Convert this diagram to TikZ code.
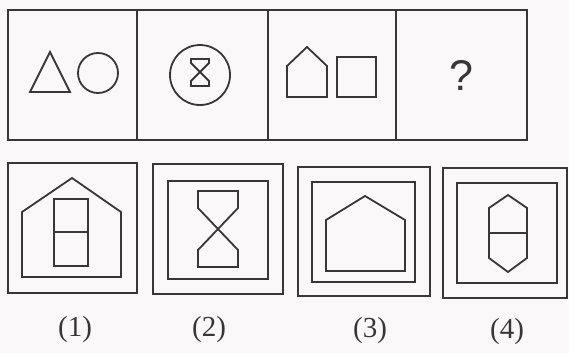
\documentclass[tikz,border=0pt]{standalone}
\usepackage{fontspec}
\newfontfamily\qfont{Liberation Sans}
\newfontfamily\lfont{Liberation Serif}
\definecolor{ink}{RGB}{55,55,55}
\definecolor{paper}{RGB}{250,248,249}
\begin{document}
\begin{tikzpicture}[x=1pt,y=-1pt,
  shp/.style={draw=ink,line width=1.8pt,line join=miter},
  lbl/.style={font=\lfont\fontsize{29}{31}\selectfont,text=ink,inner sep=0pt}]
\fill[paper] (0,0) rectangle (569,353);
\useasboundingbox (0,0) rectangle (569,353);
% top row frame
\draw[shp] (8,10) rectangle (527,140);
\draw[shp] (137,10) -- (137,140);
\draw[shp] (268,10) -- (268,140);
\draw[shp] (396,10) -- (396,140);
% panel 1
\draw[shp] (30,92) -- (50,52) -- (70,92) -- cycle;
\draw[shp] (98,73) circle (20);
% panel 2
\draw[shp] (200,75) circle (30);
\draw[shp] (191,59) -- (209,59) -- (209,63) -- (200,72) -- (209,81) -- (209,86) -- (191,86) -- (191,81) -- (200,72) -- (191,63) -- cycle;
% panel 3
\draw[shp] (287,97) -- (287,66) -- (307,47) -- (327,66) -- (327,97) -- cycle;
\draw[shp] (337,57) rectangle (376,97);
% panel 4
\node[font=\qfont\fontsize{43}{46}\selectfont,text=ink,inner sep=0pt] (q) at (461,75) {?};
% option 1
\draw[shp] (8,163) rectangle (137,293);
\draw[shp] (22,277) -- (22,212) -- (72,178) -- (121,212) -- (121,277) -- cycle;
\draw[shp] (54,199) rectangle (88,266);
\draw[shp] (54,232) -- (88,232);
% option 2
\draw[shp] (153,164) rectangle (283,294);
\draw[shp] (168,181) rectangle (268,279);
\draw[shp] (198,191) -- (238,191) -- (238,208) -- (218,229) -- (238,250) -- (238,267) -- (198,267) -- (198,250) -- (218,229) -- (198,208) -- cycle;
% option 3
\draw[shp] (298,167) rectangle (430,296);
\draw[shp] (312,182) rectangle (415,282);
\draw[shp] (326,271) -- (326,220) -- (365,196) -- (405,220) -- (405,271) -- cycle;
% option 4
\draw[shp] (443,168) rectangle (567,298);
\draw[shp] (457,183) rectangle (557,283);
\draw[shp] (508,195) -- (527,208) -- (527,258) -- (508,272) -- (489,258) -- (489,208) -- cycle;
\draw[shp] (489,233) -- (527,233);
% labels
\node[lbl] (l1) at (75,330) {(1)};
\node[lbl] (l2) at (209,330) {(2)};
\node[lbl] (l3) at (370,331) {(3)};
\node[lbl] (l4) at (507,332) {(4)};
\end{tikzpicture}
\end{document}
